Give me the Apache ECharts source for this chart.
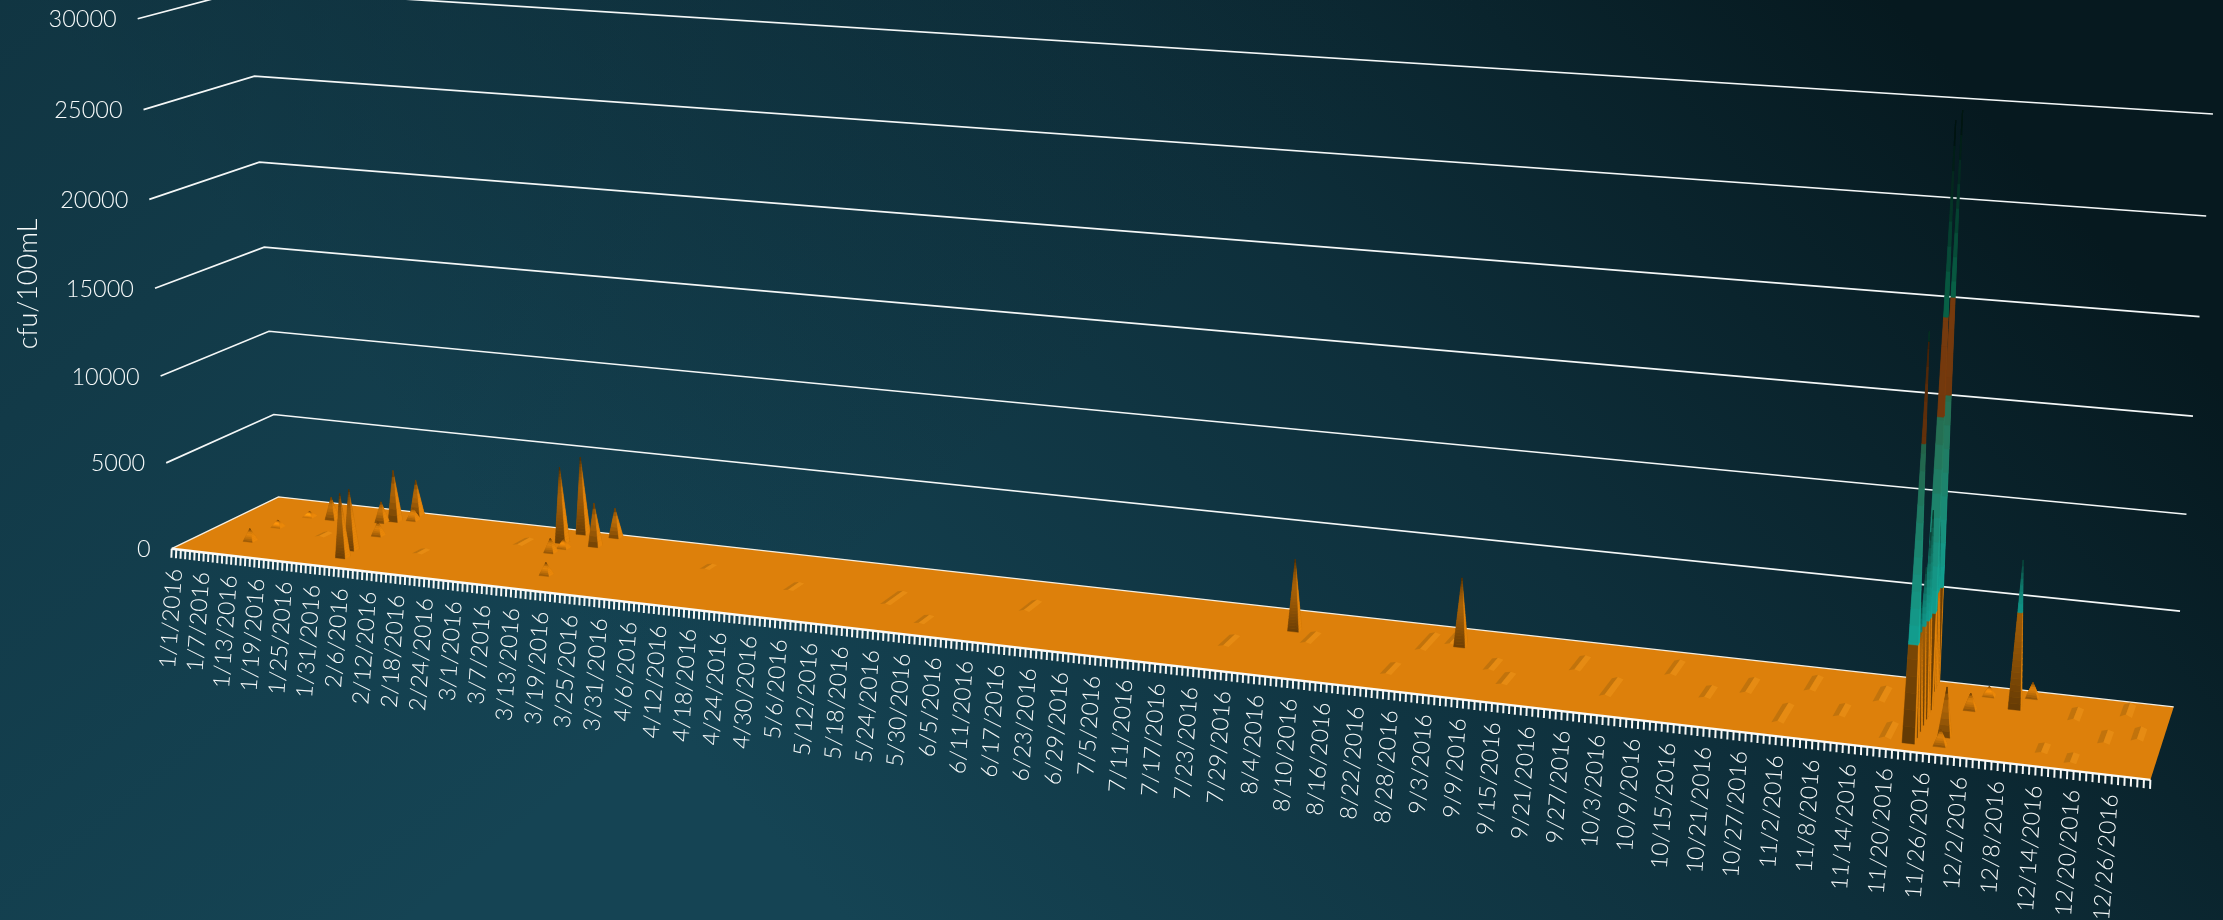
<!DOCTYPE html>
<html><head><meta charset="utf-8">
<style>html,body{margin:0;padding:0;background:#0f3342}#c{width:2223px;height:920px}</style>
<script src="https://cdn.jsdelivr.net/npm/echarts@6/dist/echarts.min.js"></script>
</head><body><div id="c"></div>
<script>
const tickLabels=['1/1/2016','1/7/2016','1/13/2016','1/19/2016','1/25/2016','1/31/2016','2/6/2016','2/12/2016','2/18/2016','2/24/2016','3/1/2016','3/7/2016','3/13/2016','3/19/2016','3/25/2016','3/31/2016','4/6/2016','4/12/2016','4/18/2016','4/24/2016','4/30/2016','5/6/2016','5/12/2016','5/18/2016','5/24/2016','5/30/2016','6/5/2016','6/11/2016','6/17/2016','6/23/2016','6/29/2016','7/5/2016','7/11/2016','7/17/2016','7/23/2016','7/29/2016','8/4/2016','8/10/2016','8/16/2016','8/22/2016','8/28/2016','9/3/2016','9/9/2016','9/15/2016','9/21/2016','9/27/2016','10/3/2016','10/9/2016','10/15/2016','10/21/2016','10/27/2016','11/2/2016','11/8/2016','11/14/2016','11/20/2016','11/26/2016','12/2/2016','12/8/2016','12/14/2016','12/20/2016','12/26/2016'];
const yTicks=[0,5000,10000,15000,20000,25000,30000];
const rowCount=24, dayMax=365;
// peaks: day of year, depth row, cfu/100mL
const peakDays  =[33,32,18,30,32,28,32,33,11,11,13, 67,68,74,75,68,74,69, 214,244, 326,326,326,325, 326,326,326,326,325,325,325,325,325, 331,331,333,335,340,342];
const peakRows  =[4,7,17,19,22,18,13,20,6,12,17, 18,22,18,22,14,6,16, 16,17, 3,12,14,23, 5,7,9,11,16,18,20,21,22, 6,3,15,20,17,21];
const peakValues=[3700,3500,1300,3000,2100,1200,800,700,700,400,300, 4400,4500,2500,1700,800,700,500, 3900,3700, 20500,10500,29700,29400, 8000,6500,8000,9500,9000,8000,8500,10000,8500, 2500,800,850,500,7700,800];
// low ridges on the surface: day, first row, last row, height
const ridgeDays =[22,45,60,100,120,140,150,165,205,218,236,238,242,252,256,266,274,282,290,296,304,306,313,318,322,347,350,352,356,358,361];
const ridgeFrom =[10,8,15,14,10,9,4,12,8,12,5,14,17,10,6,13,6,15,9,12,4,15,8,14,3,4,15,2,9,18,11];
const ridgeTo   =[12,10,18,16,13,14,7,16,12,16,9,20,21,14,10,18,12,20,13,17,10,20,12,19,8,7,19,5,13,22,15];
const ridgeVals =[70,50,60,50,50,55,50,90,60,70,60,90,75,75,60,80,100,100,80,90,110,100,90,100,110,75,110,85,80,140,120];

const controlWorld=[[0,0,0],[0,1,0],[1,0,0],[1,1,0],[0,0,1],[0,1,5/6],[1,1,1],[0,1,1/6],[1,1,1/6],[1,1,.5],[0,0,.5],[0,1,.5],[1,1,5/6],[0,0,1/6],[90/365,0,0],[180/365,0,0],[270/365,0,0]];
const controlScreen=[[173,550],[279,497],[2148,778],[2173.5,707],[137.7,19],[253.5,75],[2213,114],[274,414],[2180,612],[2193,417],[155.6,288.5],[264.7,246.6],[2206,216.5],[168,463],[599,599.2],[1063,652.7],[1568,711]];
function solveCamera(){
  const A=[],b=[];
  controlWorld.forEach((p,i)=>{const [u,v,w]=p,sx=controlScreen[i][0]/1000,sy=controlScreen[i][1]/1000,k=(u>0&&u<1)?4:1;
    A.push([k*u,k*v,k*w,k,0,0,0,0,-k*sx*u,-k*sx*v,-k*sx*w]);b.push(k*sx);
    A.push([0,0,0,0,u,v,w,1,-sy*u,-sy*v,-sy*w]);b.push(sy);});
  const n=11,M=[];
  for(let i=0;i<n;i++){M.push([]);for(let j=0;j<n;j++){let s=0;A.forEach(r=>s+=r[i]*r[j]);M[i].push(s+(i===j?1e-9:0));}let s=0;A.forEach((r,k)=>s+=r[i]*b[k]);M[i].push(s);}
  for(let c=0;c<n;c++){let m=c;for(let r=c+1;r<n;r++)if(Math.abs(M[r][c])>Math.abs(M[m][c]))m=r;[M[c],M[m]]=[M[m],M[c]];
    for(let r=0;r<n;r++){if(r===c)continue;const f=M[r][c]/M[c][c];for(let k=c;k<=n;k++)M[r][k]-=f*M[c][k];}}
  return M.map((r,i)=>r[n]/r[i]);
}
const cam=solveCamera();
function screen(p){const [u,v,w]=p,d=cam[8]*u+cam[9]*v+cam[10]*w+1;
  return [1000*(cam[0]*u+cam[1]*v+cam[2]*w+cam[3])/d,1000*(cam[4]*u+cam[5]*v+cam[6]*w+cam[7])/d];}
// library scales -> unit cube -> picture
function world(api,cs,day,row,val){const c=api.coord([day,val]);
  return [(c[0]-cs.x)/cs.width,row/(rowCount-1),(cs.y+cs.height-c[1])/cs.height];}
function place(api,cs,day,row,val){return screen(world(api,cs,day,row,val));}

const hex=h=>[parseInt(h.slice(1,3),16),parseInt(h.slice(3,5),16),parseInt(h.slice(5,7),16)];
const mix=(a,b,t)=>a.map((x,i)=>x+(b[i]-x)*t);
const ORANGE=hex('#e0820a');
function bandColor(z){
  if(z<5000) return ORANGE;
  if(z<15000) return mix(hex('#12ab9c'),hex('#2b7656'),(z-5000)/10000);
  if(z<20000) return mix(hex('#7c3d0e'),hex('#8a4410'),(z-15000)/5000);
  return mix(hex('#0a7656'),hex('#052a22'),(z-20000)/10000);
}
const FACE_LIGHT={front:.5,right:1.02,left:.72,back:.8};
function sliceColor(z,peak,face){
  const nz=1/Math.sqrt(1+Math.pow(peak/400,2));
  let s=nz*1.06+(1-nz)*FACE_LIGHT[face];
  if(z>=5000) s=1+(s-1)*.15;
  const t=z/peak;
  let tip=1-.6*Math.pow(t,5);
  if(face==='front'&&z<5000) s*=.85+.55*Math.min(1,t*1.6);
  const c=bandColor(z).map(x=>Math.min(255,Math.round(x*s*tip)));
  return 'rgb('+c.join(',')+')';
}
const ROW_HALF=.6;
function renderPeak(params,api){
  const cs=params.coordSys,d=api.value(0),r=api.value(1),val=api.value(2);
  const d0=Math.max(0,d-1),d1=Math.min(dayMax,d+1),r0=Math.max(0,r-ROW_HALF),r1=Math.min(rowCount-1,r+ROW_HALF);
  const P=(a,b,z)=>world(api,cs,a,b,z);
  const apex=P(d,r,val);
  const faces=[['back',P(d0,r1,0),P(d1,r1,0)],['left',P(d0,r0,0),P(d0,r1,0)],['right',P(d1,r1,0),P(d1,r0,0)],['front',P(d0,r0,0),P(d1,r0,0)]];
  const levels=[0];
  const n=val>3000?24:8;
  for(let i=1;i<n;i++)levels.push(val*i/n);
  [5000,15000,20000].forEach(b=>{if(b<val)levels.push(b);});
  levels.push(val);levels.sort((a,b)=>a-b);
  const children=[];
  const lerp=(a,t)=>a.map((x,i)=>x+(apex[i]-x)*t);
  faces.forEach(f=>{
    for(let i=0;i<levels.length-1;i++){
      const z1=levels[i],z2=levels[i+1];if(z2-z1<1)continue;
      const t1=z1/val,t2=z2/val,col=sliceColor((z1+z2)/2,val,f[0]);
      children.push({type:'polygon',shape:{points:[screen(lerp(f[1],t1)),screen(lerp(f[2],t1)),screen(lerp(f[2],t2)),screen(lerp(f[1],t2))]},
        style:{fill:col,stroke:col,lineWidth:.4}});
    }
  });
  return {type:'group',children};
}
function renderRidge(params,api){
  const cs=params.coordSys,d=api.value(0),a=api.value(1),b=api.value(2),h=api.value(3);
  const S=(x,r,z)=>place(api,cs,x,r,z);
  return {type:'group',children:[
    {type:'polygon',shape:{points:[S(d-1,a,0),S(d-1,b,0),S(d,b,h),S(d,a,h)]},style:{fill:'#a9680f',opacity:.55}},
    {type:'polygon',shape:{points:[S(d,a,h),S(d,b,h),S(d+1,b,0),S(d+1,a,0)]},style:{fill:'#f29a1c',opacity:.45}}
  ]};
}
const peakOrder=[];
peakDays.forEach((d,i)=>peakOrder.push([d,peakRows[i],peakValues[i]]));
peakOrder.sort((a,b)=>b[1]-a[1]||a[0]-b[0]);

const TEXT='#f6f9f9', FONT='"Lato","Inter",sans-serif';
const option={
  animation:false,
  backgroundColor:{type:'linear',x:.85,y:0,x2:.38,y2:1,colorStops:[{offset:0,color:'#06191f'},{offset:.45,color:'#0e2f3b'},{offset:1,color:'#154454'}]},
  grid:{left:0,right:0,top:0,bottom:0},
  xAxis:{type:'value',min:0,max:dayMax,interval:6,show:false},
  yAxis:{type:'value',min:0,max:30000,interval:5000,show:false},
  series:[
    {type:'custom',name:'walls',silent:true,z:1,data:yTicks.map(v=>[0,v]),
     renderItem(p,api){const cs=p.coordSys,v=api.value(1);
       const a=place(api,cs,0,0,v),b=place(api,cs,0,rowCount-1,v),c=place(api,cs,dayMax,rowCount-1,v);
       const kids=[];
       if(v>0)kids.push({type:'polyline',shape:{points:[a,b,c]},style:{stroke:'#f4f7f7',lineWidth:1.7,fill:null}});
       kids.push({type:'text',x:a[0]-21,y:a[1]+1,style:{text:String(v),align:'right',verticalAlign:'middle',fill:TEXT,font:'300 23.5px '+FONT}});
       return {type:'group',children:kids};}},
    {type:'custom',name:'floor',silent:true,z:2,data:[[0,0]],
     renderItem(p,api){const cs=p.coordSys;
       const a=place(api,cs,0,0,0),b=place(api,cs,0,rowCount-1,0),c=place(api,cs,dayMax,rowCount-1,0),d=place(api,cs,dayMax,0,0);
       return {type:'group',children:[
         {type:'polygon',shape:{points:[a,b,c,d]},style:{fill:'#dd800b'}},
         {type:'polyline',shape:{points:[a,b,c]},style:{stroke:'#f6efe2',lineWidth:1.4,fill:null}}]};}},
    {type:'custom',name:'ridges',silent:true,z:3,data:ridgeDays.map((d,i)=>[d,ridgeFrom[i],ridgeTo[i],ridgeVals[i]]),
     encode:{x:0,y:3},renderItem:renderRidge},
    {type:'custom',name:'cfu/100mL',silent:true,z:3,data:peakOrder,renderItem:renderPeak},
    {type:'custom',name:'days',silent:true,z:4,data:Array.from({length:dayMax+1},(_,i)=>[i,0]),
     renderItem(p,api){const a=place(api,p.coordSys,api.value(0),0,0);
       return {type:'line',shape:{x1:a[0],y1:a[1],x2:a[0]-.3,y2:a[1]+9},style:{stroke:'#f7f7f5',lineWidth:2}};}},
    {type:'custom',name:'edge',silent:true,z:5,data:[[0,0]],
     renderItem(p,api){const a=place(api,p.coordSys,0,0,0),d=place(api,p.coordSys,dayMax,0,0);
       return {type:'line',shape:{x1:a[0],y1:a[1],x2:d[0],y2:d[1]},style:{stroke:'#fbfaf6',lineWidth:2.4}};}},
    {type:'custom',name:'dates',silent:true,z:6,data:tickLabels.map((_,i)=>[i*6,0]),
     renderItem(p,api){const day=api.value(0),a=place(api,p.coordSys,day,0,0),u=day/dayMax;
       return {type:'text',x:a[0]+3-11*u,y:a[1]+20-2*u,rotation:86*Math.PI/180,
         style:{text:tickLabels[p.dataIndex],align:'right',verticalAlign:'middle',fill:TEXT,font:'300 23px '+FONT}};}}
  ],
  graphic:[
    {type:'rect',z:-1,silent:true,shape:{x:0,y:0,width:2223,height:920},
     style:{fill:{type:'linear',global:true,x:0,y:0,x2:620,y2:760,colorStops:[{offset:0,color:'rgba(12,38,48,0.5)'},{offset:1,color:'rgba(12,38,48,0)'}]}}},
    {type:'text',x:28,y:284,rotation:Math.PI/2,style:{text:'cfu/100mL',align:'center',verticalAlign:'middle',fill:TEXT,font:'300 27px '+FONT}}]
};
const chart=echarts.init(document.getElementById('c'),null,{renderer:'canvas',width:2223,height:920});
chart.setOption(option);
</script></body></html>
